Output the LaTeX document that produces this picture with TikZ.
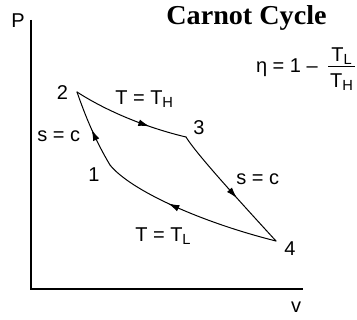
\documentclass[tikz,border=0pt]{standalone}
\usepackage{fontspec}
\setmainfont{Liberation Sans}
\newfontfamily\titlefont{Liberation Serif}
\usetikzlibrary{arrows.meta,decorations.markings}
\tikzset{
  lbl/.style={inner sep=0pt, anchor=base, font=\fontsize{15}{17}\selectfont},
  lblw/.style={lbl, anchor=base west},
  curve/.style={line width=0.75pt, line cap=round, line join=round},
  axis/.style={line width=0.8pt},
  midarrow/.style={postaction={decorate}, decoration={markings,
      mark=at position #1 with {\arrow{Latex[length=8.5pt,width=5pt]}}}}
}
\newcommand{\sbs}[1]{\raisebox{-0.25ex}{\fontsize{11}{12}\selectfont #1}}
\begin{document}
\begin{tikzpicture}[x=0.75pt,y=-0.75pt]
\useasboundingbox (0,0) rectangle (357,320);
% axes
\coordinate (top) at (31,20);
\coordinate (orig) at (31,289);
\coordinate (right) at (303,289);
\draw[axis] (top) -- (orig) -- (right);
\node[lbl] (P) at (18,28) {P};
\node[lbl] (v) at (296,313) {v};
% title
\node[inner sep=0pt, anchor=base, font=\titlefont\bfseries\fontsize{20.5}{22}\selectfont] (title) at (246.5,25) {\scalebox{1.03}[1]{Carnot Cycle}};
% state points
\coordinate (n1) at (110,165);
\coordinate (n2) at (77,92);
\coordinate (n3) at (186,137);
\coordinate (n4) at (276,241);
\node[lbl] (l1) at (94,182) {1};
\node[lbl] (l2) at (62.5,100) {2};
\node[lbl] (l3) at (199,135) {3};
\node[lbl] (l4) at (290,256) {4};
% processes
\draw[curve, midarrow=0.68] (n2) .. controls (108,112) and (148,128) .. (n3);
\draw[curve, midarrow=0.58] (n3) .. controls (194,150) and (220,180) .. (n4);
\draw[curve, midarrow=0.62] (n4) .. controls (200,222) and (130,190) .. (n1);
\draw[curve, midarrow=0.5] (n1) .. controls (95,140) and (85,115) .. (n2);
% process labels
\node[lblw] (tH) at (115,105) {T = T\sbs{H}};
\node[lblw] (sc1) at (37,142) {s = c};
\node[lblw] (sc2) at (236,185) {s = c};
\node[lblw] (tL) at (135,242) {T = T\sbs{L}};
% efficiency
\node[lbl, anchor=base east] (eta) at (318,73) {η = 1 –};
\node[lbl] (num) at (341.5,62) {T\sbs{L}};
\node[lbl] (den) at (341.5,88) {T\sbs{H}};
\coordinate (barL) at (328,67);
\coordinate (barR) at (355,67);
\draw[line width=0.75pt] (barL) -- (barR);
\end{tikzpicture}
\end{document}
